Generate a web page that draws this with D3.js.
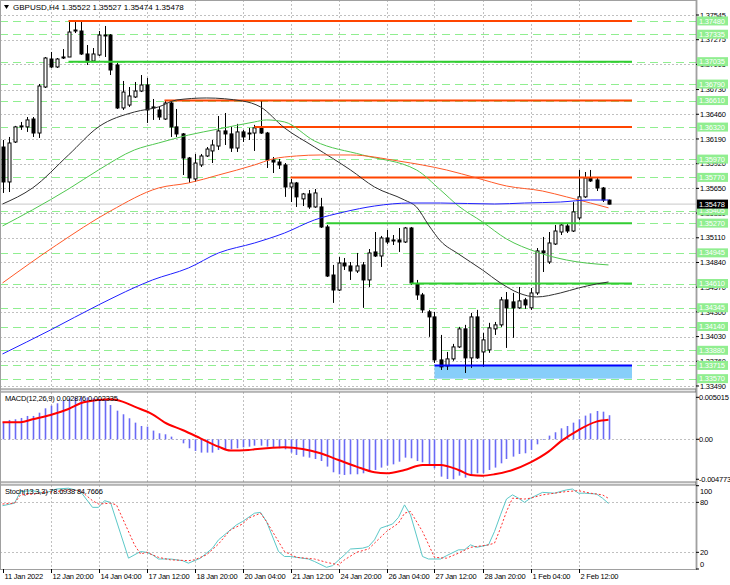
<!DOCTYPE html>
<html>
<head>
<meta charset="utf-8">
<script src="https://cdn.jsdelivr.net/npm/d3@7"></script>
<style>
  body { margin: 0; background: #fff; }
  text { font-family: "Liberation Sans", Arial, sans-serif; font-size: 7.5px; letter-spacing: -0.2px; fill: #000; }
  text.title { font-size: 8px; letter-spacing: 0; }
</style>
</head>
<body>
<svg id="chart" width="730" height="585"></svg>
<script>
// GBPUSD H4 candles, bar 0 = 11 Jan 2022 12:00
const opens = [1.36102,1.35720,1.36157,1.36322,1.36322,1.36408,1.36255,1.36758,1.37064,1.36977,
  1.37075,1.37086,1.37370,1.37370,1.37119,1.37042,1.37108,1.37316,1.37326,1.36999,
  1.36529,1.36561,1.36649,1.36714,1.36780,1.36529,1.36507,1.36408,1.36583,1.36322,
  1.36245,1.35982,1.35753,1.35906,1.36004,1.36059,1.36113,1.36278,1.36245,1.36091,
  1.36267,1.36245,1.36255,1.36311,1.36255,1.35960,1.35938,1.35906,1.35665,1.35709,
  1.35535,1.35589,1.35447,1.35447,1.35228,1.34703,1.34539,1.34834,1.34802,1.34747,
  1.34813,1.34649,1.34955,1.34911,1.35108,1.35075,1.35086,1.35064,1.35217,1.34605,
  1.34485,1.34300,1.34245,1.33775,1.33709,1.33786,1.33917,1.34114,1.33797,1.34245,
  1.33862,1.33884,1.34114,1.34158,1.34431,1.34409,1.34344,1.34431,1.34344,1.34507,
  1.34966,1.34845,1.35042,1.35173,1.35239,1.35184,1.35327,1.35557,1.35764,1.35742,
  1.35654,1.35522];
const highs = [1.36179,1.36212,1.36333,1.36376,1.36430,1.36430,1.36791,1.37086,1.37141,1.37075,
  1.37173,1.37469,1.37469,1.37469,1.37217,1.37184,1.37370,1.37425,1.37337,1.37020,
  1.36824,1.36758,1.36813,1.36889,1.36857,1.36627,1.36540,1.36616,1.36605,1.36518,
  1.36255,1.35993,1.36026,1.36026,1.36102,1.36179,1.36441,1.36474,1.36322,1.36355,
  1.36289,1.36311,1.36344,1.36605,1.36267,1.35993,1.35971,1.35927,1.35753,1.35720,
  1.35600,1.35632,1.35643,1.35546,1.35250,1.34813,1.34900,1.34889,1.34845,1.34944,
  1.34845,1.34987,1.35173,1.35130,1.35195,1.35140,1.35217,1.35228,1.35228,1.34649,
  1.34507,1.34322,1.34300,1.34048,1.33862,1.33950,1.34136,1.34158,1.34289,1.34322,
  1.34070,1.34180,1.34190,1.34463,1.34517,1.34507,1.34572,1.34453,1.34561,1.34998,
  1.35119,1.35173,1.35250,1.35272,1.35261,1.35501,1.35851,1.35829,1.35851,1.35764,
  1.35665,1.35527];
const lows = [1.35600,1.35610,1.36146,1.36289,1.36267,1.36212,1.36201,1.36747,1.36966,1.36966,
  1.37064,1.37086,1.37348,1.37108,1.36999,1.37031,1.37097,1.37086,1.36889,1.36518,
  1.36507,1.36540,1.36638,1.36703,1.36365,1.36398,1.36398,1.36398,1.36212,1.36212,
  1.35796,1.35709,1.35720,1.35884,1.35993,1.35927,1.36070,1.36124,1.36048,1.36048,
  1.36157,1.36179,1.36059,1.36245,1.35873,1.35818,1.35862,1.35557,1.35501,1.35447,
  1.35457,1.35426,1.35437,1.35217,1.34681,1.34398,1.34528,1.34758,1.34649,1.34725,
  1.34344,1.34572,1.34900,1.34791,1.35042,1.35031,1.34955,1.35053,1.34594,1.34431,
  1.34289,1.34027,1.33742,1.33665,1.33665,1.33765,1.33906,1.33632,1.33688,1.33786,
  1.33699,1.33852,1.34048,1.34136,1.33906,1.34016,1.34333,1.34333,1.34322,1.34485,
  1.34736,1.34824,1.35031,1.35140,1.35162,1.35173,1.35305,1.35546,1.35720,1.35621,
  1.35501,1.35474];
const closes = [1.35720,1.36146,1.36322,1.36333,1.36398,1.36255,1.36769,1.37075,1.36977,1.37064,
  1.37086,1.37359,1.37381,1.37119,1.37031,1.37119,1.37326,1.37326,1.36944,1.36529,
  1.36703,1.36660,1.36714,1.36780,1.36507,1.36540,1.36430,1.36583,1.36322,1.36245,
  1.35982,1.35764,1.35927,1.36004,1.36080,1.36124,1.36278,1.36245,1.36091,1.36267,
  1.36212,1.36255,1.36311,1.36255,1.35960,1.35938,1.35906,1.35665,1.35709,1.35557,
  1.35589,1.35447,1.35600,1.35228,1.34692,1.34539,1.34834,1.34802,1.34747,1.34802,
  1.34649,1.34944,1.34911,1.35108,1.35064,1.35086,1.35064,1.35217,1.34616,1.34485,
  1.34322,1.34245,1.33775,1.33699,1.33786,1.33917,1.34114,1.33797,1.34245,1.33797,
  1.33994,1.34125,1.34158,1.34431,1.34344,1.34344,1.34420,1.34376,1.34507,1.34966,
  1.34944,1.35053,1.35184,1.35250,1.35184,1.35393,1.35557,1.35764,1.35731,1.35654,
  1.35523,1.35478];

// moving averages: [bar, price]
const maBlack = [[0,1.35479],[5,1.35654],[11,1.36015],[16,1.36322],[22,1.36485],[26,1.36540],[29,1.36616],
  [34,1.36638],[40,1.36605],[43,1.36540],[47,1.36311],[52,1.36102],[58,1.35851],[62,1.35665],[67,1.35523],
  [69,1.35447],[71,1.35250],[73,1.35075],[76,1.34933],[80,1.34758],[83,1.34616],[86,1.34507],[89,1.34463],
  [93,1.34507],[96,1.34561],[99,1.34605],[101,1.34627]];
const maGreen = [[0,1.35239],[5,1.35415],[11,1.35643],[16,1.35851],[22,1.36070],[26,1.36146],[31,1.36233],
  [36,1.36299],[42,1.36376],[44,1.36398],[47,1.36376],[52,1.36168],[60,1.36015],[69,1.35851],[73,1.35632],
  [76,1.35457],[80,1.35283],[84,1.35097],[89,1.34955],[94,1.34867],[101,1.34813]];
const maOrange = [[0,1.34616],[9,1.35031],[18,1.35403],[26,1.35654],[31,1.35709],[36,1.35796],[42,1.35906],
  [45,1.35971],[49,1.36004],[53,1.36015],[58,1.36015],[66,1.35949],[74,1.35851],[79,1.35764],[84,1.35676],
  [90,1.35621],[94,1.35557],[98,1.35490],[101,1.35437]];
const maBlue = [[0,1.33840],[8,1.34102],[16,1.34376],[25,1.34649],[31,1.34780],[36,1.34944],[42,1.35053],
  [47,1.35162],[52,1.35305],[57,1.35393],[62,1.35457],[68,1.35490],[73,1.35490],[82,1.35479],[87,1.35490],
  [93,1.35501],[98,1.35523],[101,1.35523]];

// MACD(12,26,9) histogram per bar and signal line samples
const macdHist = [0.00199,0.00231,0.00239,0.00255,0.00279,0.00279,0.00318,0.00370,0.00402,0.00430,
  0.00462,0.00490,0.00498,0.00502,0.005015,0.00490,0.00482,0.00470,0.00410,0.00342,
  0.00299,0.00251,0.00199,0.00159,0.00151,0.00104,0.00072,0.00060,0.00032,0.00004,
  -0.00048,-0.00107,-0.00139,-0.00159,-0.00159,-0.00159,-0.00127,-0.00119,-0.00119,-0.00107,
  -0.00096,-0.00088,-0.00076,-0.00076,-0.00088,-0.00100,-0.00107,-0.00119,-0.00159,-0.00187,
  -0.00207,-0.00219,-0.00235,-0.00259,-0.00326,-0.00394,-0.00418,-0.00426,-0.00418,-0.00418,
  -0.00406,-0.00386,-0.00366,-0.00338,-0.00314,-0.00299,-0.00267,-0.00219,-0.00227,-0.00259,
  -0.00275,-0.00306,-0.00346,-0.00446,-0.00474,-0.004773,-0.00434,-0.00458,-0.00426,-0.00406,
  -0.00406,-0.00366,-0.00338,-0.00287,-0.00235,-0.00207,-0.00175,-0.00167,-0.00127,-0.00060,
  -0.00008,0.00044,0.00084,0.00131,0.00159,0.00199,0.00239,0.00283,0.00310,0.00338,
  0.00330,0.002876];
const macdSignal = [[0,0.00203],[3,0.00203],[5,0.00239],[8,0.00291],[11,0.00362],[13,0.00430],[16,0.00470],
  [18,0.00478],[20,0.00450],[22,0.00390],[25,0.00299],[27,0.00203],[30,0.00111],[33,0.00012],[36,-0.00088],
  [38,-0.00135],[41,-0.00129],[42,-0.00119],[45,-0.00100],[47,-0.00096],[50,-0.00115],[53,-0.00167],
  [56,-0.00247],[59,-0.00326],[62,-0.00394],[64,-0.00406],[67,-0.00366],[70,-0.00306],[73,-0.00306],
  [76,-0.00366],[78,-0.00426],[80,-0.00434],[82,-0.00418],[85,-0.00366],[88,-0.00275],[91,-0.00147],
  [93,-0.00028],[96,0.00111],[99,0.00211],[101,0.002335]];

// Stochastic(13,3,3): [bar, value]
const stochMain = [[0,76],[2,79],[3,93],[5,94],[7,91],[9,96],[11,97],[13,93],[15,74],[16,74],[17,82],[18,80],
  [21,13],[23,21],[24,20],[25,17],[26,12],[28,12],[30,10],[31,7],[33,13],[35,25],[36,35],[38,47],[39,53],
  [40,57],[42,67],[43,68],[44,57],[46,21],[47,15],[48,15],[51,12],[52,9],[54,2],[55,4],[57,17],[58,24],
  [60,25],[61,27],[62,35],[63,49],[65,54],[66,62],[67,77],[68,65],[70,15],[71,12],[73,12],[74,16],[76,23],
  [77,23],[78,29],[79,26],[81,29],[82,45],[83,65],[84,84],[85,89],[86,85],[87,80],[88,85],[90,92],[92,91],
  [94,95],[95,96],[96,91],[97,91],[99,90],[100,85],[101,78.6938]];
const stochSignal = [[0,78],[2,79],[3,89],[5,90],[7,92],[9,93],[11,95],[13,94],[15,82],[16,78],[18,79],[19,77],
  [22,29],[23,18],[24,20],[26,14],[28,11],[31,10],[32,11],[34,17],[36,30],[38,47],[40,54],[41,61],[43,67],
  [44,57],[47,21],[49,14],[52,12],[54,8],[56,5],[57,11],[59,20],[61,24],[62,31],[64,45],[66,55],[67,67],
  [68,69],[70,45],[72,14],[74,13],[76,19],[78,26],[81,29],[82,31],[83,49],[84,69],[85,85],[87,84],[88,85],
  [90,89],[92,91],[94,93],[96,94],[98,91],[100,89],[101,84.7666]];

// axis labels
const priceTicks = [1.37545,1.37275,1.37005,1.36730,1.36460,1.36190,1.35920,1.35650,1.35380,1.35110,
  1.34840,1.34570,1.34300,1.34030,1.33760,1.33490];
const greenLevels = [1.37480,1.37335,1.37035,1.36790,1.36610,1.36320,1.35970,1.35770,1.35405,1.35270,
  1.34945,1.34610,1.34345,1.34140,1.33880,1.33715,1.33570];
const timeLabels = ["11 Jan 2022","12 Jan 20:00","14 Jan 04:00","17 Jan 12:00","18 Jan 20:00","20 Jan 04:00",
  "21 Jan 12:00","24 Jan 20:00","26 Jan 04:00","27 Jan 12:00","28 Jan 20:00","1 Feb 04:00","2 Feb 12:00"];
const lastPrice = 1.35478;

// drawn objects: [price, from bar, color]
const levelLines = [[1.37480,11,"#ff4500"],[1.37035,11,"#32cd32"],[1.36610,27,"#ff4500"],[1.36320,42,"#ff4500"],
  [1.35770,48,"#ff4500"],[1.35270,54,"#32cd32"],[1.34610,68,"#32cd32"]];
const supportZone = [1.33715, 1.33570, 72];

const svg = d3.select("#chart");
const axisX = 696;
const x = d3.scaleLinear().domain([0, 101]).range([2.5, 608.5]);
const y = d3.scaleLinear().domain([1.33457, 1.37709]).range([389, 0]);
const yM = d3.scaleLinear().domain([-0.0051, 0.00565]).range([482, 392]);
const yS = d3.scaleLinear().domain([0, 100]).range([569, 485.7]);
const fmt5 = d3.format(".5f");

const grid = svg.append("g").attr("stroke", "#c0c0c0").attr("stroke-dasharray", "2,2");
priceTicks.forEach(p => grid.append("line").attr("x1", 0).attr("x2", axisX).attr("y1", Math.round(y(p)) + .5).attr("y2", Math.round(y(p)) + .5));
timeLabels.forEach((t, k) => {
  if (k === 0) return;
  const xx = Math.round(x(k * 8)) + .5;
  [[0, 389], [392, 482], [485, 569]].forEach(r => grid.append("line").attr("x1", xx).attr("x2", xx).attr("y1", r[0]).attr("y2", r[1]));
});
[yM(0), yS(80), yS(20)].forEach(v => grid.append("line").attr("x1", 0).attr("x2", axisX).attr("y1", Math.round(v) + .5).attr("y2", Math.round(v) + .5));

// light green dashed levels
svg.append("g").selectAll("line").data(greenLevels).join("line")
  .attr("x1", 0).attr("x2", axisX)
  .attr("y1", d => Math.round(y(d)) + .5).attr("y2", d => Math.round(y(d)) + .5)
  .attr("stroke", "#90ee90").attr("stroke-width", 1.2).attr("stroke-dasharray", "8,5");

// bid line
svg.append("line").attr("x1", 0).attr("x2", axisX).attr("y1", y(lastPrice)).attr("y2", y(lastPrice))
  .attr("stroke", "#c8c8c8");

// support zone
svg.append("rect").attr("x", x(supportZone[2])).attr("width", 632 - x(supportZone[2]))
  .attr("y", y(supportZone[0])).attr("height", y(supportZone[1]) - y(supportZone[0]))
  .attr("fill", "#87cefa");

// candles
const idx = d3.range(closes.length);
const candles = svg.append("g");
candles.selectAll("line").data(idx).join("line")
  .attr("x1", i => Math.round(x(i)) + .5).attr("x2", i => Math.round(x(i)) + .5)
  .attr("y1", i => y(highs[i])).attr("y2", i => y(lows[i]))
  .attr("stroke", "#000");
candles.selectAll("rect").data(idx).join("rect")
  .attr("x", i => Math.round(x(i)) - 1)
  .attr("width", 3)
  .attr("y", i => y(Math.max(opens[i], closes[i])))
  .attr("height", i => Math.max(0.6, Math.abs(y(opens[i]) - y(closes[i]))))
  .attr("fill", i => closes[i] >= opens[i] ? "#fff" : "#000")
  .attr("stroke", "#000").attr("stroke-width", 1);

// level lines
svg.append("g").selectAll("line").data(levelLines).join("line")
  .attr("x1", d => x(d[1])).attr("x2", 632)
  .attr("y1", d => y(d[0])).attr("y2", d => y(d[0]))
  .attr("stroke", d => d[2]).attr("stroke-width", 2);
svg.append("line").attr("x1", x(supportZone[2])).attr("x2", 632)
  .attr("y1", y(supportZone[0])).attr("y2", y(supportZone[0]))
  .attr("stroke", "#0000ff").attr("stroke-width", 2);

// moving averages
const maLine = d3.line().x(d => x(d[0])).y(d => y(d[1])).curve(d3.curveMonotoneX);
[[maBlack, "#303030"], [maGreen, "#50c850"], [maOrange, "#ff5a28"], [maBlue, "#2020ff"]].forEach(m =>
  svg.append("path").attr("d", maLine(m[0])).attr("fill", "none").attr("stroke", m[1]).attr("stroke-width", 1));

// panel separators and frame
[[389, 3], [482, 3]].forEach(s => svg.append("rect").attr("x", 0).attr("y", s[0]).attr("width", axisX).attr("height", s[1])
  .attr("fill", "#e8e8e8").attr("stroke", "#808080").attr("stroke-width", 1));
svg.append("line").attr("x1", 0).attr("x2", axisX).attr("y1", 569.5).attr("y2", 569.5).attr("stroke", "#606060");
svg.append("line").attr("x1", axisX + .5).attr("x2", axisX + .5).attr("y1", 0).attr("y2", 569.5).attr("stroke", "#606060").attr("stroke-width", 1.5);
svg.append("rect").attr("x", 0.5).attr("y", 0.5).attr("width", axisX).attr("height", 569).attr("fill", "none").attr("stroke", "#a0a0a0");

// MACD
svg.append("g").selectAll("line").data(idx).join("line")
  .attr("x1", i => Math.round(x(i)) + .5).attr("x2", i => Math.round(x(i)) + .5)
  .attr("y1", yM(0)).attr("y2", i => yM(macdHist[i]))
  .attr("stroke", "#6a6af5").attr("stroke-width", 1.6);
svg.append("path").attr("d", d3.line().x(d => x(d[0])).y(d => yM(d[1])).curve(d3.curveMonotoneX)(macdSignal))
  .attr("fill", "none").attr("stroke", "#ff0000").attr("stroke-width", 2);

// Stochastic
const sLine = d3.line().x(d => x(d[0])).y(d => yS(d[1]));
svg.append("path").attr("d", sLine(stochMain)).attr("fill", "none").attr("stroke", "#5cc8c8").attr("stroke-width", 1);
svg.append("path").attr("d", sLine(stochSignal)).attr("fill", "none").attr("stroke", "#ff3030").attr("stroke-width", 1).attr("stroke-dasharray", "2,2");

// price axis
const ax = svg.append("g");
priceTicks.forEach(p => {
  const yy = y(p);
  ax.append("line").attr("x1", axisX).attr("x2", axisX + 3).attr("y1", yy).attr("y2", yy).attr("stroke", "#000");
  ax.append("text").attr("x", axisX + 4).attr("y", yy).attr("dy", "0.35em").text(fmt5(p));
});
greenLevels.forEach(p => {
  const yy = y(p);
  ax.append("rect").attr("x", axisX + 1).attr("y", yy - 4.5).attr("width", 31).attr("height", 9).attr("fill", "#90ee90");
  ax.append("text").attr("x", axisX + 3).attr("y", yy).attr("dy", "0.35em").style("fill", "#fff").text(fmt5(p));
});
ax.append("rect").attr("x", axisX + 1).attr("y", y(lastPrice) - 4.5).attr("width", 31).attr("height", 9).attr("fill", "#000");
ax.append("text").attr("x", axisX + 3).attr("y", y(lastPrice)).attr("dy", "0.35em").style("fill", "#fff").text(fmt5(lastPrice));

[[0.005015, "0.005015"], [0, "0.00"], [-0.004773, "-0.004773"]].forEach(t => {
  ax.append("line").attr("x1", axisX).attr("x2", axisX + 3).attr("y1", yM(t[0])).attr("y2", yM(t[0])).attr("stroke", "#000");
  ax.append("text").attr("x", axisX + 3).attr("y", yM(t[0])).attr("dy", "0.35em").text(t[1]);
});
[[100, 491], [80, 502], [20, 552], [0, 564]].forEach(t => {
  ax.append("line").attr("x1", axisX).attr("x2", axisX + 3).attr("y1", yS(t[0])).attr("y2", yS(t[0])).attr("stroke", "#000");
  ax.append("text").attr("x", axisX + 4).attr("y", t[1]).attr("dy", "0.35em").text(t[0]);
});

// time axis
timeLabels.forEach((t, k) => {
  const xx = Math.round(x(k * 8)) + .5;
  ax.append("line").attr("x1", xx).attr("x2", xx).attr("y1", 569).attr("y2", 573).attr("stroke", "#000");
  ax.append("text").attr("x", xx + 1).attr("y", 579).text(t);
});

// titles
svg.append("path").attr("d", "M4,5 L9,5 L6.5,9 Z").attr("fill", "#000");
svg.append("text").attr("class", "title").attr("x", 13).attr("y", 10).text("GBPUSD,H4  1.35522 1.35527 1.35474 1.35478");
svg.append("text").attr("x", 5).attr("y", 401).text("MACD(12,26,9) 0.002876 0.002335");
svg.append("text").attr("x", 5).attr("y", 494).text("Stoch(13,3,3) 78.6938 84.7666");
</script>
</body>
</html>
